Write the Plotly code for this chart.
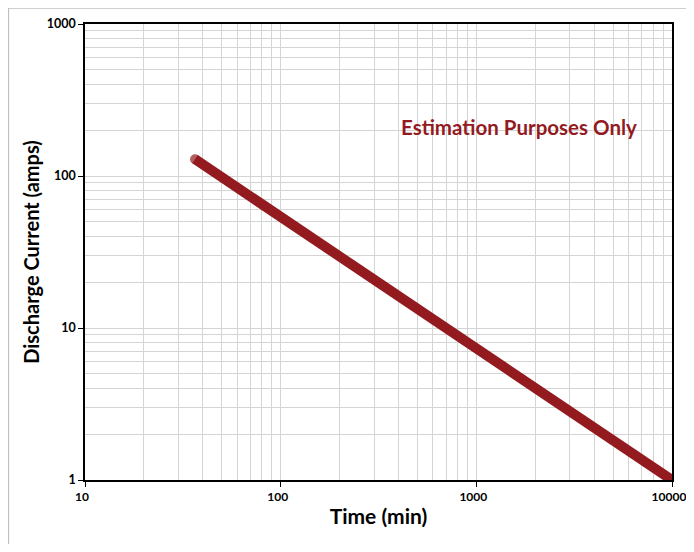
import plotly.graph_objects as go

# Data
time_min = [36.5, 10000]
current_amps = [129, 1.0]
x_tick_vals = [10, 100, 1000, 10000]
x_tick_text = ["10", "100", "1000", "10000"]
y_tick_vals = [1, 10, 100, 1000]
y_tick_text = ["1", "10", "100", "1000"]
x_minor = [m * 10 ** d for d in range(1, 4) for m in range(2, 10)]
y_minor = [m * 10 ** d for d in range(0, 3) for m in range(2, 10)]

RED = "#931B1F"
GRID = "#D4D4D4"
FONT = "Lato"

fig = go.Figure()
fig.add_trace(go.Scatter(
    x=time_min, y=current_amps, mode="lines+markers",
    line=dict(color=RED, width=10),
    marker=dict(color=RED, size=[10, 0], line=dict(width=0)),
    showlegend=False, cliponaxis=True,
))

axis_common = dict(
    type="log", showline=True, linecolor="black", linewidth=1.5, mirror=True,
    ticks="outside", ticklen=5, tickcolor="black", automargin=False,
    showgrid=True, gridcolor=GRID, gridwidth=1, zeroline=False,
)

fig.update_xaxes(
    **axis_common, range=[1, 4], tickmode="array", tickvals=x_tick_vals, ticktext=x_tick_text,
    tickfont=dict(family=FONT, size=12, color="black", weight="bold"), ticklabelshift=-3,
    minor=dict(tickmode="array", tickvals=x_minor, showgrid=True, gridcolor=GRID, gridwidth=1, ticks=""),
    title=dict(text="Time (min)", font=dict(family=FONT, size=21, color="black", weight="bold"), standoff=6),
)
fig.update_yaxes(
    **axis_common, range=[0, 3], tickmode="array", tickvals=y_tick_vals, ticktext=y_tick_text,
    tickfont=dict(family=FONT, size=12.5, color="black", weight="bold"),
    minor=dict(tickmode="array", tickvals=y_minor, showgrid=True, gridcolor=GRID, gridwidth=1, ticks=""),
    title=dict(text="Discharge Current (amps)", font=dict(family=FONT, size=20, color="black", weight="bold"), standoff=2),
)

fig.add_annotation(
    x=0.74, y=0.775, xref="paper", yref="paper", xanchor="center", yanchor="middle",
    text="Estimation Purposes Only",
    showarrow=False, font=dict(family=FONT, size=20.5, color=RED, weight="bold"),
)

# outer frame (top and left edges visible)
fig.add_shape(type="line", xref="paper", yref="paper", x0=-0.131, y0=1.0357, x1=1.1, y1=1.0357,
              line=dict(color="#BFBFBF", width=2))
fig.add_shape(type="line", xref="paper", yref="paper", x0=-0.131, y0=1.0357, x1=-0.131, y1=-0.3,
              line=dict(color="#BFBFBF", width=2))

fig.update_layout(
    width=686, height=536,
    margin=dict(l=77, r=21.5, t=16, b=63.7),
    plot_bgcolor="white", paper_bgcolor="white",
    font=dict(family=FONT),
)

fig.write_html("out.html")
